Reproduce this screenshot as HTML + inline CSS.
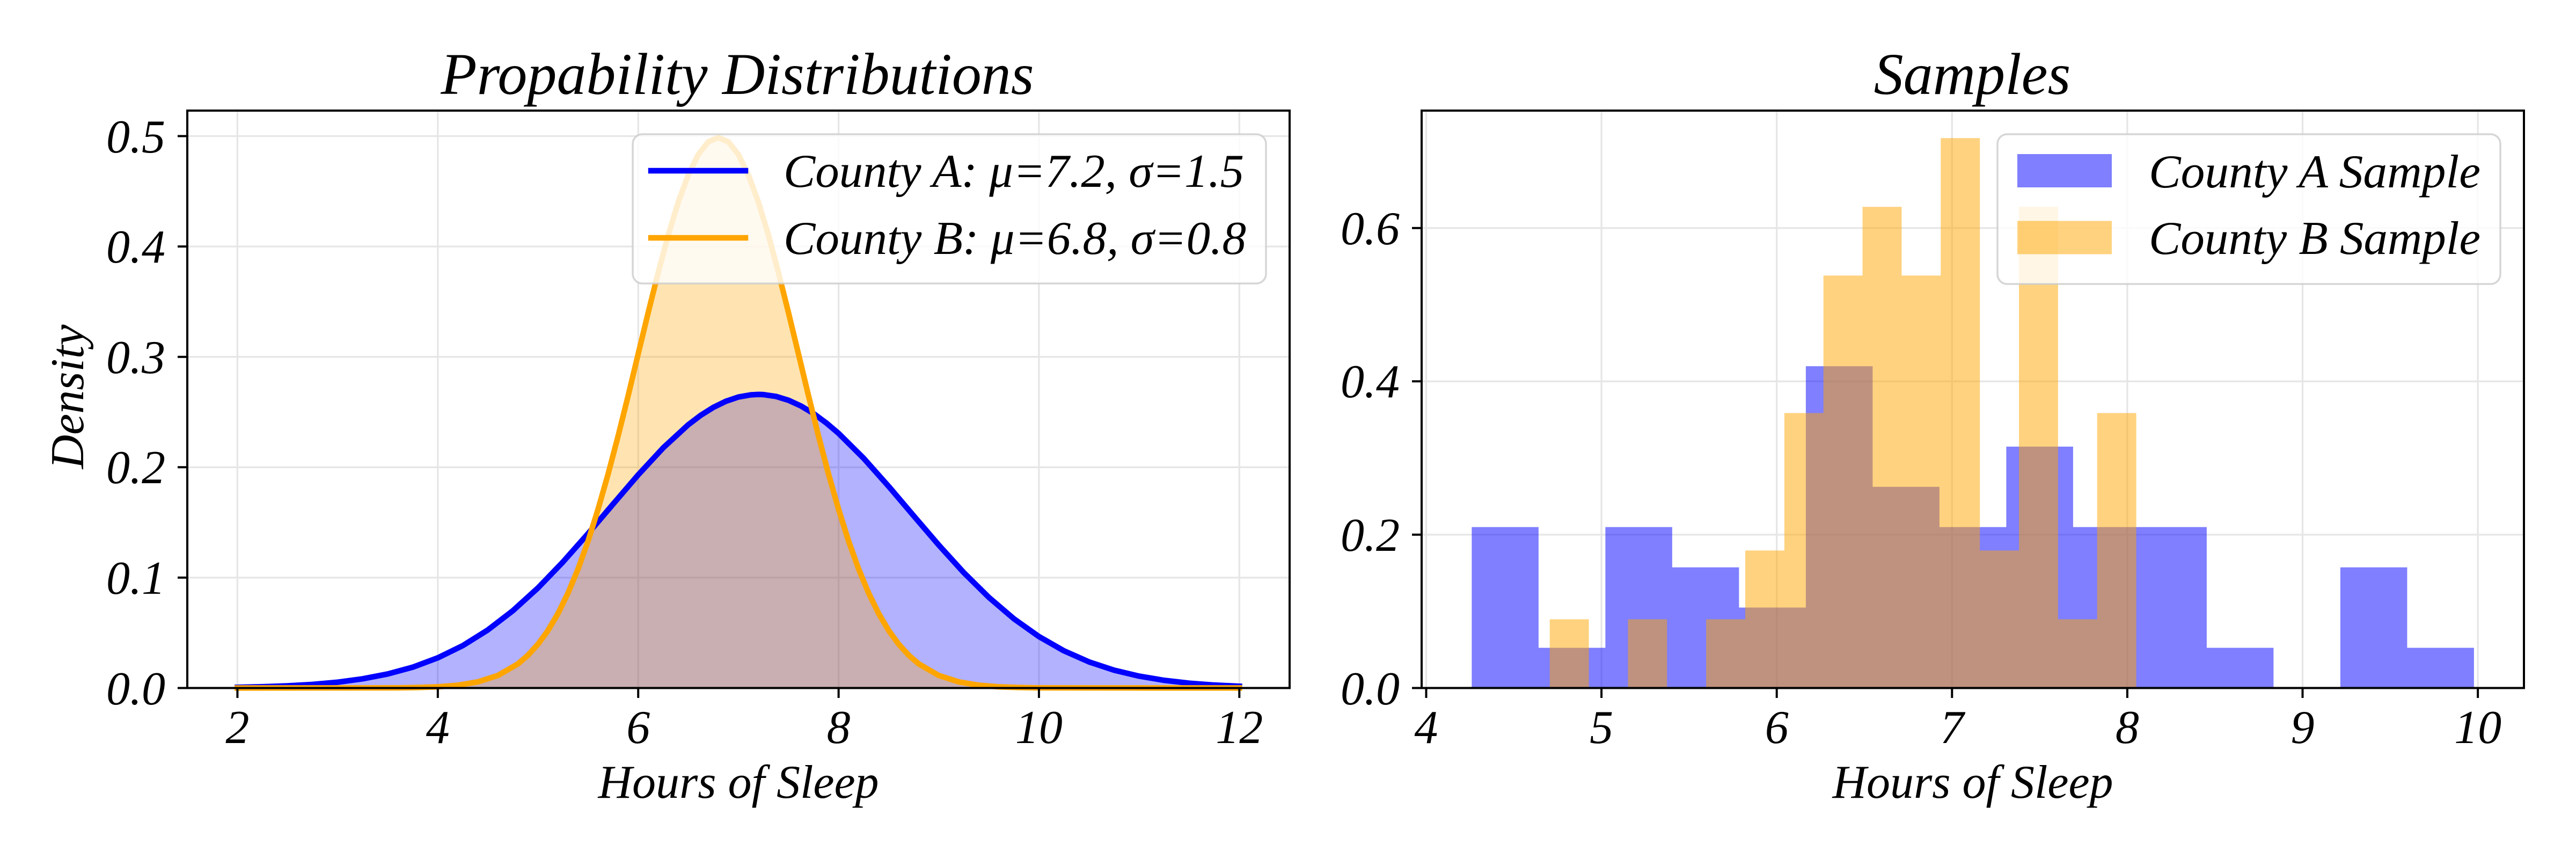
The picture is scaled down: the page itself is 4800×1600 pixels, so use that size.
<!DOCTYPE html>
<html>
<head>
<meta charset="utf-8">
<style>
  html, body { margin: 0; padding: 0; background: #ffffff; }
  svg { display: block; }
  text { font-family: "Liberation Serif", "Times New Roman", serif; font-style: italic; fill: #000; }
</style>
</head>
<body>
<svg width="4800" height="1600" viewBox="0 0 4800 1600" xmlns="http://www.w3.org/2000/svg">
  <rect x="0" y="0" width="4800" height="1600" fill="#ffffff"/>

  <!-- ================= LEFT PLOT ================= -->
  <g stroke="#e6e6e6" stroke-width="3.3">
    <line x1="442.4" y1="206" x2="442.4" y2="1281.5"/>
    <line x1="815.8" y1="206" x2="815.8" y2="1281.5"/>
    <line x1="1189.2" y1="206" x2="1189.2" y2="1281.5"/>
    <line x1="1562.6" y1="206" x2="1562.6" y2="1281.5"/>
    <line x1="1935.9" y1="206" x2="1935.9" y2="1281.5"/>
    <line x1="2309.3" y1="206" x2="2309.3" y2="1281.5"/>
    <line x1="349" y1="1075.9" x2="2403" y2="1075.9"/>
    <line x1="349" y1="870.3" x2="2403" y2="870.3"/>
    <line x1="349" y1="664.7" x2="2403" y2="664.7"/>
    <line x1="349" y1="459.1" x2="2403" y2="459.1"/>
    <line x1="349" y1="253.5" x2="2403" y2="253.5"/>
  </g>

  <path fill="#0000ff" fill-opacity="0.3" d="M442.4,1280.2 L489.0,1279.1 L535.7,1277.5 L582.4,1274.8 L629.1,1270.7 L675.7,1264.4 L722.4,1255.4 L769.1,1242.7 L815.8,1225.3 L862.4,1202.5 L909.1,1173.3 L955.8,1137.4 L1002.5,1095.0 L1049.1,1046.6 L1095.8,993.8 L1142.5,938.8 L1189.2,884.4 L1235.8,834.1 L1282.5,791.1 L1305.9,773.4 L1329.2,758.8 L1352.5,747.4 L1375.9,739.5 L1399.2,735.4 L1413.2,734.7 L1422.5,735.0 L1445.9,738.4 L1469.2,745.5 L1492.5,756.2 L1515.9,770.2 L1539.2,787.4 L1562.6,807.2 L1609.2,853.5 L1655.9,905.9 L1702.6,960.9 L1749.3,1015.3 L1795.9,1066.6 L1842.6,1112.7 L1889.3,1152.6 L1936.0,1185.7 L1982.6,1212.3 L2029.3,1232.9 L2076.0,1248.3 L2122.7,1259.4 L2169.3,1267.2 L2216.0,1272.5 L2262.7,1276.0 L2309.4,1278.2 L2309.4,1281.5 L442.4,1281.5 Z"/>
  <path fill="#ffa500" fill-opacity="0.3" d="M442.4,1281.5 L741.1,1281.2 L778.4,1280.6 L815.7,1279.3 L853.1,1276.3 L890.4,1270.1 L927.8,1258.1 L965.1,1236.5 L983.8,1220.4 L1002.4,1199.9 L1021.1,1174.3 L1039.8,1142.7 L1058.4,1104.7 L1077.1,1059.8 L1095.8,1007.7 L1114.4,948.6 L1133.1,883.1 L1151.8,812.1 L1170.5,737.0 L1189.1,659.6 L1207.8,582.3 L1226.5,507.6 L1245.1,438.1 L1263.8,376.7 L1282.5,325.8 L1301.2,287.7 L1319.8,264.2 L1338.5,256.2 L1357.2,264.2 L1375.8,287.7 L1394.5,325.8 L1413.2,376.7 L1431.9,438.1 L1450.5,507.6 L1469.2,582.3 L1487.9,659.6 L1506.5,737.0 L1525.2,812.1 L1543.9,883.1 L1562.6,948.6 L1581.2,1007.7 L1599.9,1059.8 L1618.6,1104.7 L1637.2,1142.7 L1655.9,1174.3 L1674.6,1199.9 L1693.2,1220.4 L1711.9,1236.5 L1749.2,1258.1 L1786.6,1270.1 L1823.9,1276.3 L1861.3,1279.3 L1898.6,1280.6 L1935.9,1281.2 L2309.4,1281.5 Z"/>

  <path fill="none" stroke="#0000ff" stroke-width="10.4" stroke-linejoin="round" stroke-linecap="square" d="M442.4,1280.2 L489.0,1279.1 L535.7,1277.5 L582.4,1274.8 L629.1,1270.7 L675.7,1264.4 L722.4,1255.4 L769.1,1242.7 L815.8,1225.3 L862.4,1202.5 L909.1,1173.3 L955.8,1137.4 L1002.5,1095.0 L1049.1,1046.6 L1095.8,993.8 L1142.5,938.8 L1189.2,884.4 L1235.8,834.1 L1282.5,791.1 L1305.9,773.4 L1329.2,758.8 L1352.5,747.4 L1375.9,739.5 L1399.2,735.4 L1413.2,734.7 L1422.5,735.0 L1445.9,738.4 L1469.2,745.5 L1492.5,756.2 L1515.9,770.2 L1539.2,787.4 L1562.6,807.2 L1609.2,853.5 L1655.9,905.9 L1702.6,960.9 L1749.3,1015.3 L1795.9,1066.6 L1842.6,1112.7 L1889.3,1152.6 L1936.0,1185.7 L1982.6,1212.3 L2029.3,1232.9 L2076.0,1248.3 L2122.7,1259.4 L2169.3,1267.2 L2216.0,1272.5 L2262.7,1276.0 L2309.4,1278.2"/>
  <path fill="none" stroke="#ffa500" stroke-width="10.4" stroke-linejoin="round" stroke-linecap="square" d="M442.4,1281.5 L741.1,1281.2 L778.4,1280.6 L815.7,1279.3 L853.1,1276.3 L890.4,1270.1 L927.8,1258.1 L965.1,1236.5 L983.8,1220.4 L1002.4,1199.9 L1021.1,1174.3 L1039.8,1142.7 L1058.4,1104.7 L1077.1,1059.8 L1095.8,1007.7 L1114.4,948.6 L1133.1,883.1 L1151.8,812.1 L1170.5,737.0 L1189.1,659.6 L1207.8,582.3 L1226.5,507.6 L1245.1,438.1 L1263.8,376.7 L1282.5,325.8 L1301.2,287.7 L1319.8,264.2 L1338.5,256.2 L1357.2,264.2 L1375.8,287.7 L1394.5,325.8 L1413.2,376.7 L1431.9,438.1 L1450.5,507.6 L1469.2,582.3 L1487.9,659.6 L1506.5,737.0 L1525.2,812.1 L1543.9,883.1 L1562.6,948.6 L1581.2,1007.7 L1599.9,1059.8 L1618.6,1104.7 L1637.2,1142.7 L1655.9,1174.3 L1674.6,1199.9 L1693.2,1220.4 L1711.9,1236.5 L1749.2,1258.1 L1786.6,1270.1 L1823.9,1276.3 L1861.3,1279.3 L1898.6,1280.6 L1935.9,1281.2 L2309.4,1281.5"/>

  <rect x="349" y="206" width="2054" height="1075.5" fill="none" stroke="#000" stroke-width="4"/>
  <g stroke="#000" stroke-width="4">
    <line x1="442.4" y1="1281.5" x2="442.4" y2="1300"/>
    <line x1="815.8" y1="1281.5" x2="815.8" y2="1300"/>
    <line x1="1189.2" y1="1281.5" x2="1189.2" y2="1300"/>
    <line x1="1562.6" y1="1281.5" x2="1562.6" y2="1300"/>
    <line x1="1935.9" y1="1281.5" x2="1935.9" y2="1300"/>
    <line x1="2309.3" y1="1281.5" x2="2309.3" y2="1300"/>
    <line x1="331" y1="1281.5" x2="349" y2="1281.5"/>
    <line x1="331" y1="1075.9" x2="349" y2="1075.9"/>
    <line x1="331" y1="870.3" x2="349" y2="870.3"/>
    <line x1="331" y1="664.7" x2="349" y2="664.7"/>
    <line x1="331" y1="459.1" x2="349" y2="459.1"/>
    <line x1="331" y1="253.5" x2="349" y2="253.5"/>
  </g>
  <g font-size="88" text-anchor="middle">
    <text x="442.4" y="1384">2</text>
    <text x="815.8" y="1384">4</text>
    <text x="1189.2" y="1384">6</text>
    <text x="1562.6" y="1384">8</text>
    <text x="1935.9" y="1384">10</text>
    <text x="2309.3" y="1384">12</text>
  </g>
  <g font-size="88" text-anchor="end">
    <text x="308" y="1312">0.0</text>
    <text x="308" y="1106">0.1</text>
    <text x="308" y="900">0.2</text>
    <text x="308" y="695">0.3</text>
    <text x="308" y="489">0.4</text>
    <text x="308" y="284">0.5</text>
  </g>
  <text x="1376" y="1486" font-size="88" text-anchor="middle">Hours of Sleep</text>
  <text x="0" y="0" font-size="88" text-anchor="middle" transform="translate(155,739) rotate(-90)">Density</text>
  <text x="1374" y="175" font-size="110" text-anchor="middle">Propability Distributions</text>

  <rect x="1179" y="250" width="1180" height="278" rx="18" ry="18" fill="#ffffff" fill-opacity="0.8" stroke="#cccccc" stroke-opacity="0.8" stroke-width="3.5"/>
  <line x1="1213" y1="318" x2="1389" y2="318" stroke="#0000ff" stroke-width="10.4" stroke-linecap="square"/>
  <line x1="1213" y1="443" x2="1389" y2="443" stroke="#ffa500" stroke-width="10.4" stroke-linecap="square"/>
  <text x="1460" y="348" font-size="88" textLength="858" lengthAdjust="spacingAndGlyphs">County A: μ=7.2, σ=1.5</text>
  <text x="1460" y="473" font-size="88" textLength="862" lengthAdjust="spacingAndGlyphs">County B: μ=6.8, σ=0.8</text>

  <!-- ================= RIGHT PLOT ================= -->
  <g stroke="#e6e6e6" stroke-width="3.3">
    <line x1="2657.5" y1="206" x2="2657.5" y2="1281.5"/>
    <line x1="2984.1" y1="206" x2="2984.1" y2="1281.5"/>
    <line x1="3310.7" y1="206" x2="3310.7" y2="1281.5"/>
    <line x1="3637.3" y1="206" x2="3637.3" y2="1281.5"/>
    <line x1="3963.9" y1="206" x2="3963.9" y2="1281.5"/>
    <line x1="4290.5" y1="206" x2="4290.5" y2="1281.5"/>
    <line x1="4617.1" y1="206" x2="4617.1" y2="1281.5"/>
    <line x1="2649" y1="995.9" x2="4703" y2="995.9"/>
    <line x1="2649" y1="710.3" x2="4703" y2="710.3"/>
    <line x1="2649" y1="424.7" x2="4703" y2="424.7"/>
  </g>

  <path fill="#0000ff" fill-opacity="0.5" d="M2742.4,1281.5 V981.8 H2866.9 V1206.6 H2991.4 V981.8 H3115.9 V1056.7 H3240.4 V1131.6 H3364.9 V682.1 H3489.4 V906.8 H3613.9 V981.8 H3738.4 V831.9 H3862.9 V981.8 H3987.4 V981.8 H4111.9 V1206.6 H4236.4 V1281.5 H4360.9 V1056.7 H4485.4 V1206.6 H4609.9 V1281.5 Z"/>
  <path fill="#ffa500" fill-opacity="0.5" d="M2887.7,1281.5 V1153.5 H2960.6 V1281.5 H3033.4 V1153.5 H3106.3 V1281.5 H3179.1 V1153.5 H3252.0 V1025.4 H3324.9 V769.4 H3397.7 V513.3 H3470.6 V385.3 H3543.4 V513.3 H3616.3 V257.3 H3689.2 V1025.4 H3762.0 V385.3 H3834.9 V1153.5 H3907.7 V769.4 H3980.6 V1281.5 Z"/>

  <rect x="2649" y="206" width="2054" height="1075.5" fill="none" stroke="#000" stroke-width="4"/>
  <g stroke="#000" stroke-width="4">
    <line x1="2657.5" y1="1281.5" x2="2657.5" y2="1300"/>
    <line x1="2984.1" y1="1281.5" x2="2984.1" y2="1300"/>
    <line x1="3310.7" y1="1281.5" x2="3310.7" y2="1300"/>
    <line x1="3637.3" y1="1281.5" x2="3637.3" y2="1300"/>
    <line x1="3963.9" y1="1281.5" x2="3963.9" y2="1300"/>
    <line x1="4290.5" y1="1281.5" x2="4290.5" y2="1300"/>
    <line x1="4617.1" y1="1281.5" x2="4617.1" y2="1300"/>
    <line x1="2631" y1="1281.5" x2="2649" y2="1281.5"/>
    <line x1="2631" y1="995.9" x2="2649" y2="995.9"/>
    <line x1="2631" y1="710.3" x2="2649" y2="710.3"/>
    <line x1="2631" y1="424.7" x2="2649" y2="424.7"/>
  </g>
  <g font-size="88" text-anchor="middle">
    <text x="2657.5" y="1384">4</text>
    <text x="2984.1" y="1384">5</text>
    <text x="3310.7" y="1384">6</text>
    <text x="3637.3" y="1384">7</text>
    <text x="3963.9" y="1384">8</text>
    <text x="4290.5" y="1384">9</text>
    <text x="4617.1" y="1384">10</text>
  </g>
  <g font-size="88" text-anchor="end">
    <text x="2608" y="1312">0.0</text>
    <text x="2608" y="1026">0.2</text>
    <text x="2608" y="740">0.4</text>
    <text x="2608" y="455">0.6</text>
  </g>
  <text x="3676" y="1486" font-size="88" text-anchor="middle">Hours of Sleep</text>
  <text x="3675" y="175" font-size="110" text-anchor="middle">Samples</text>

  <rect x="3722" y="250" width="937" height="279" rx="18" ry="18" fill="#ffffff" fill-opacity="0.8" stroke="#cccccc" stroke-opacity="0.8" stroke-width="3.5"/>
  <rect x="3759" y="287" width="176" height="62" fill="#0000ff" fill-opacity="0.5"/>
  <rect x="3759" y="411.5" width="176" height="62" fill="#ffa500" fill-opacity="0.5"/>
  <text x="4004" y="349" font-size="88" textLength="618" lengthAdjust="spacingAndGlyphs">County A Sample</text>
  <text x="4004" y="473" font-size="88" textLength="618" lengthAdjust="spacingAndGlyphs">County B Sample</text>
</svg>
</body>
</html>
